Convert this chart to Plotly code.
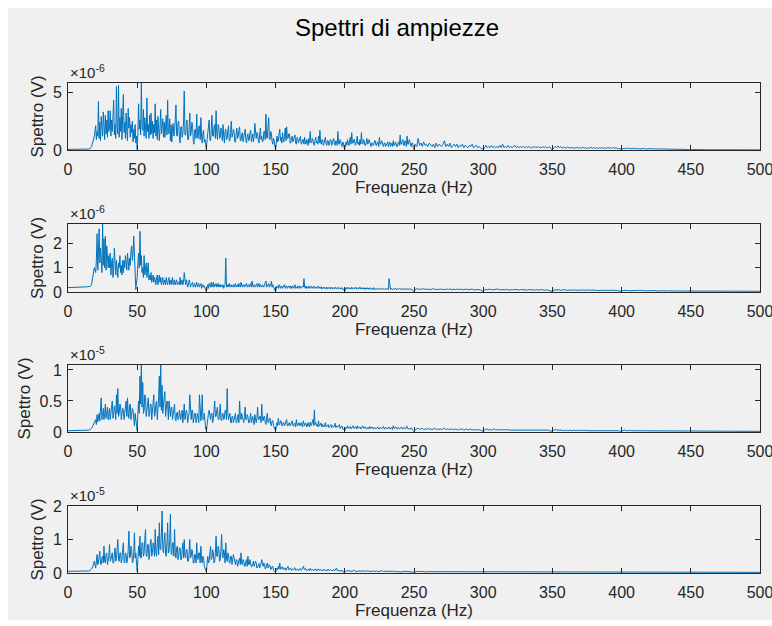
import plotly.graph_objects as go
from plotly.subplots import make_subplots

# Each spectrum is kept in three frequency segments:
#   *_base : 0 .. 19 Hz, 1 Hz step
#   *_fine : 20 .. 249.5 Hz, 0.5 Hz step
#   *_tail : 250 .. 500 Hz, 1 Hz step
# Values are in units of the exponent printed above each axis.

spettro1_base = [0.05, 0.05, 0.04, 0.05, 0.05, 0.04, 0.05, 0.05, 0.05, 0.04,
                 0.05, 0.05, 0.06, 0.05, 0.06, 0.08, 0.12, 0.3, 0.7, 1.2]
spettro1_fine = [
    2.1, 0.9, 1.6, 1.2, 4.2, 1.0, 2.4, 0.8, 2.9, 1.5, 1.2, 3.3, 1.9, 0.9, 3.0, 1.4, 2.6, 1.1, 3.4, 1.6,
    1.9, 3.4, 1.2, 2.6, 1.6, 3.0, 4.3, 1.3, 2.2, 1.0, 5.5, 2.0, 1.4, 5.6, 1.1, 2.8, 1.6, 3.6, 0.9, 3.0,
    4.8, 1.5, 2.4, 1.0, 3.2, 1.6, 0.8, 3.6, 1.9, 2.8, 1.1, 2.2, 1.5, 2.5, 0.7, 1.8, 1.0, 2.2, 0.6, 1.2,
    0.05, 1.5, 4.0, 1.8, 2.6, 1.3, 5.8, 2.0, 1.7, 3.5, 1.2, 2.8, 1.9, 1.0, 4.5, 1.6, 2.2, 1.0, 3.0, 1.3,
    3.2, 1.4, 2.5, 1.0, 2.2, 1.5, 4.0, 1.2, 2.6, 0.9, 2.9, 1.5, 0.8, 2.0, 3.5, 1.4, 1.9, 2.7, 1.1, 2.4,
    1.1, 2.6, 3.0, 1.3, 4.3, 1.5, 1.4, 2.7, 0.8, 2.2, 0.7, 1.9, 2.3, 1.2, 1.6, 2.6, 3.9, 1.3, 1.2, 2.4,
    2.5, 1.0, 0.6, 2.0, 2.0, 1.1, 1.4, 2.5, 5.1, 1.3, 1.3, 2.2, 2.6, 0.9, 0.9, 1.8, 3.2, 1.2, 1.5, 2.4,
    2.2, 0.8, 0.5, 1.7, 1.8, 1.0, 3.1, 1.3, 1.0, 2.0, 2.1, 0.9, 2.8, 1.2, 0.6, 1.5, 1.7, 0.7, 0.9, 0.4,
    0.05, 0.9, 1.4, 2.0, 2.6, 0.9, 0.8, 1.8, 3.0, 1.2, 1.2, 2.0, 2.2, 1.0, 3.4, 1.4, 0.9, 2.2, 2.0, 1.0,
    1.1, 1.9, 1.7, 0.8, 2.2, 1.3, 0.6, 1.6, 1.8, 0.9, 1.0, 1.7, 2.1, 0.8, 0.8, 1.5, 2.5, 1.1, 1.3, 1.8,
    1.6, 0.7, 0.7, 1.4, 1.9, 1.0, 1.2, 1.7, 2.0, 0.8, 0.8, 1.3, 1.5, 0.7, 1.0, 1.6, 1.8, 0.9, 0.6, 1.2,
    1.4, 0.8, 0.9, 1.5, 1.7, 0.7, 1.1, 1.4, 0.7, 1.2, 2.3, 1.0, 1.0, 1.5, 1.5, 0.8, 0.6, 1.3, 1.9, 0.9,
    1.2, 0.7, 0.8, 1.6, 1.6, 0.9, 3.1, 1.1, 1.0, 2.0, 2.8, 1.0, 0.9, 1.6, 1.4, 0.7, 0.5, 1.0, 0.8, 0.3,
    0.05, 0.6, 1.2, 0.7, 0.8, 1.4, 1.8, 0.8, 1.1, 0.6, 1.5, 0.9, 0.7, 1.3, 1.9, 0.8, 2.0, 1.0, 1.0, 1.4,
    1.4, 0.6, 0.6, 1.1, 1.2, 0.7, 0.9, 1.2, 1.3, 0.6, 0.5, 1.1, 1.0, 0.6, 0.8, 1.2, 1.2, 0.5, 0.6, 0.9,
    0.9, 0.5, 1.1, 0.6, 0.5, 0.9, 0.8, 0.4, 1.0, 0.6, 1.6, 0.7, 0.6, 1.0, 0.9, 0.5, 0.4, 0.8, 1.1, 0.6,
    0.7, 0.5, 1.2, 0.6, 1.7, 0.7, 0.5, 0.9, 0.9, 0.4, 0.6, 1.0, 1.1, 0.5, 0.4, 0.8, 0.8, 0.4, 0.5, 0.9,
    0.9, 0.4, 0.6, 0.8, 1.0, 0.5, 0.4, 0.8, 0.7, 0.4, 1.6, 0.6, 0.5, 0.9, 0.8, 0.4, 0.3, 0.7, 0.6, 0.2,
    0.05, 0.5, 0.7, 0.4, 0.9, 0.6, 0.4, 0.8, 1.1, 0.5, 1.5, 0.6, 0.6, 0.9, 0.9, 0.4, 0.5, 0.8, 1.2, 0.5,
    0.7, 0.4, 0.9, 0.5, 1.5, 0.6, 0.5, 0.9, 0.8, 0.4, 0.4, 0.7, 1.0, 0.5, 0.6, 0.9, 0.7, 0.3, 0.3, 0.6,
    0.6, 0.4, 0.5, 0.8, 0.8, 0.4, 0.4, 0.7, 0.6, 0.3, 1.1, 0.5, 0.5, 0.8, 0.7, 0.4, 0.3, 0.6, 0.6, 0.3,
    0.4, 0.6, 0.7, 0.3, 0.5, 0.7, 0.3, 0.5, 0.6, 0.3, 0.8, 0.4, 0.4, 0.7, 0.6, 0.3, 0.3, 0.6, 0.7, 0.4,
    1.3, 0.5, 0.5, 0.8, 0.9, 0.4, 0.4, 0.8, 0.7, 0.3, 1.2, 0.5, 0.5, 0.9, 0.8, 0.4, 0.3, 0.6, 0.6, 0.2,
]
spettro1_tail = [
    0.05, 0.5, 0.3, 1.0, 0.4, 0.6, 0.3, 0.7, 0.4, 0.5,
    0.3, 0.6, 0.4, 0.3, 0.5, 0.2, 0.6, 0.3, 0.5, 0.4,
    0.3, 0.5, 0.8, 0.3, 0.5, 0.3, 0.6, 0.2, 0.4, 0.5,
    0.3, 0.5, 0.2, 0.4, 0.3, 0.5, 0.2, 0.4, 0.3, 0.2,
    0.4, 0.3, 0.5, 0.2, 0.3, 0.4, 0.2, 0.3, 0.2, 0.1,
    0.03, 0.2, 0.4, 0.2, 0.3, 0.2, 0.4, 0.2, 0.3, 0.2,
    0.3, 0.2, 0.4, 0.2, 0.5, 0.2, 0.3, 0.2, 0.4, 0.2,
    0.3, 0.2, 0.3, 0.4, 0.2, 0.3, 0.2, 0.3, 0.2, 0.3,
    0.2, 0.3, 0.2, 0.3, 0.2, 0.2, 0.3, 0.2, 0.3, 0.2,
    0.3, 0.2, 0.2, 0.3, 0.2, 0.3, 0.2, 0.2, 0.3, 0.1,
    0.03, 0.2, 0.3, 0.2, 0.35, 0.2, 0.3, 0.15, 0.25, 0.2,
    0.15, 0.25, 0.2, 0.15, 0.25, 0.15, 0.2, 0.15, 0.25, 0.15,
    0.2, 0.15, 0.25, 0.15, 0.2, 0.12, 0.2, 0.15, 0.25, 0.15,
    0.2, 0.15, 0.2, 0.12, 0.2, 0.15, 0.22, 0.12, 0.2, 0.15,
    0.22, 0.15, 0.2, 0.12, 0.25, 0.15, 0.2, 0.12, 0.15, 0.1,
    0.03, 0.12, 0.15, 0.1, 0.18, 0.12, 0.15, 0.1, 0.14, 0.1,
    0.15, 0.1, 0.14, 0.08, 0.12, 0.1, 0.14, 0.08, 0.12, 0.1,
    0.12, 0.08, 0.1, 0.07, 0.12, 0.08, 0.1, 0.07, 0.1, 0.08,
    0.09, 0.06, 0.08, 0.07, 0.09, 0.06, 0.08, 0.05, 0.07, 0.06,
    0.07, 0.05, 0.06, 0.05, 0.06, 0.04, 0.05, 0.04, 0.05, 0.03,
    0.02, 0.04, 0.03, 0.04, 0.03, 0.04, 0.03, 0.03, 0.03, 0.02,
    0.03, 0.02, 0.02, 0.02, 0.02, 0.02, 0.02, 0.02, 0.02, 0.02,
    0.02, 0.02, 0.02, 0.02, 0.02, 0.02, 0.02, 0.02, 0.02, 0.02,
    0.02, 0.02, 0.01, 0.02, 0.02, 0.01, 0.02, 0.02, 0.01, 0.02,
    0.01, 0.02, 0.01, 0.01, 0.02, 0.01, 0.01, 0.01, 0.01, 0.01,
    0.01,
]

spettro2_base = [0.18, 0.18, 0.18, 0.19, 0.19, 0.19, 0.19, 0.20, 0.20, 0.20,
                 0.20, 0.21, 0.21, 0.21, 0.22, 0.22, 0.23, 0.3, 0.6, 1.0]
spettro2_fine = [
    0.8, 1.3, 2.4, 0.9, 1.6, 2.6, 1.2, 1.8, 1.4, 0.8, 2.8, 1.1, 2.2, 1.0, 2.3, 0.9, 1.9, 1.3, 1.0, 1.5,
    1.0, 1.6, 0.7, 1.2, 1.4, 0.6, 0.9, 1.8, 1.0, 0.7, 1.3, 0.9, 0.6, 1.2, 1.0, 1.5, 0.8, 1.1, 0.7, 1.3,
    0.8, 1.3, 1.0, 1.5, 1.1, 0.9, 1.6, 1.2, 0.9, 1.4, 1.1, 1.7, 1.9, 1.3, 1.6, 2.3, 1.2, 0.6, 0.1, 0.4,
    0.6, 1.2, 1.6, 1.0, 2.5, 1.1, 1.5, 0.8, 1.0, 0.6, 1.5, 0.7, 0.9, 1.2, 0.6, 0.8, 1.2, 0.5, 0.7, 0.5,
    0.8, 0.4, 0.5, 0.7, 0.4, 0.6, 0.5, 0.3, 0.6, 0.7, 0.3, 0.5, 0.7, 0.4, 0.6, 0.3, 0.5, 0.6, 0.3, 0.4,
    0.5, 0.3, 0.6, 0.4, 0.3, 0.5, 0.6, 0.3, 0.4, 0.5, 0.3, 0.6, 0.4, 0.3, 0.5, 0.3, 0.4, 0.5, 0.3, 0.4,
    0.4, 0.3, 0.6, 0.3, 0.4, 0.5, 0.3, 0.4, 0.8, 0.3, 0.3, 0.5, 0.4, 0.2, 0.3, 0.5, 0.4, 0.2, 0.3, 0.4,
    0.4, 0.2, 0.3, 0.35, 0.2, 0.3, 0.4, 0.2, 0.25, 0.35, 0.2, 0.3, 0.35, 0.15, 0.25, 0.3, 0.2, 0.25, 0.15, 0.1,
    0.02, 0.2, 0.3, 0.15, 0.35, 0.25, 0.2, 0.4, 0.2, 0.3, 0.4, 0.2, 0.3, 0.25, 0.35, 0.2, 0.25, 0.35, 0.2, 0.3,
    0.2, 0.3, 0.25, 0.2, 0.3, 0.15, 0.25, 0.3, 1.4, 0.2, 0.3, 0.2, 0.25, 0.35, 0.2, 0.25, 0.3, 0.2, 0.25, 0.3,
    0.2, 0.3, 0.35, 0.2, 0.25, 0.3, 0.2, 0.35, 0.25, 0.2, 0.4, 0.25, 0.2, 0.3, 0.25, 0.2, 0.3, 0.25, 0.35, 0.2,
    0.25, 0.3, 0.2, 0.25, 0.35, 0.2, 0.45, 0.25, 0.2, 0.3, 0.25, 0.2, 0.3, 0.35, 0.2, 0.25, 0.35, 0.2, 0.3, 0.25,
    0.2, 0.3, 0.25, 0.2, 0.3, 0.35, 0.45, 0.2, 0.25, 0.3, 0.35, 0.2, 0.3, 0.25, 0.45, 0.2, 0.3, 0.2, 0.15, 0.05,
    0.02, 0.15, 0.25, 0.2, 0.15, 0.3, 0.2, 0.15, 0.25, 0.2, 0.15, 0.25, 0.2, 0.3, 0.15, 0.2, 0.25, 0.15, 0.2, 0.25,
    0.2, 0.15, 0.25, 0.15, 0.2, 0.25, 0.15, 0.2, 0.3, 0.15, 0.2, 0.15, 0.25, 0.2, 0.15, 0.25, 0.2, 0.15, 0.2, 0.25,
    0.2, 0.55, 0.2, 0.15, 0.25, 0.15, 0.2, 0.15, 0.25, 0.2, 0.15, 0.2, 0.25, 0.15, 0.2, 0.15, 0.25, 0.2, 0.15, 0.2,
    0.15, 0.2, 0.25, 0.15, 0.2, 0.15, 0.22, 0.12, 0.18, 0.2, 0.15, 0.2, 0.12, 0.18, 0.2, 0.12, 0.18, 0.15, 0.2, 0.12,
    0.15, 0.2, 0.12, 0.18, 0.15, 0.12, 0.2, 0.15, 0.12, 0.18, 0.2, 0.12, 0.15, 0.18, 0.12, 0.15, 0.18, 0.1, 0.12, 0.08,
    0.02, 0.12, 0.18, 0.12, 0.2, 0.15, 0.12, 0.18, 0.15, 0.12, 0.2, 0.12, 0.15, 0.18, 0.12, 0.15, 0.2, 0.12, 0.15, 0.18,
    0.12, 0.15, 0.2, 0.12, 0.15, 0.18, 0.12, 0.15, 0.18, 0.1, 0.15, 0.12, 0.18, 0.12, 0.15, 0.1, 0.18, 0.12, 0.15, 0.1,
    0.12, 0.18, 0.1, 0.15, 0.12, 0.1, 0.15, 0.12, 0.1, 0.14, 0.15, 0.1, 0.12, 0.15, 0.1, 0.12, 0.14, 0.1, 0.12, 0.15,
    0.1, 0.14, 0.12, 0.1, 0.55, 0.12, 0.1, 0.15, 0.12, 0.1, 0.14, 0.1, 0.12, 0.15, 0.1, 0.12, 0.14, 0.1, 0.12, 0.15,
    0.12, 0.1, 0.14, 0.1, 0.15, 0.12, 0.1, 0.14, 0.12, 0.1, 0.14, 0.1, 0.12, 0.1, 0.14, 0.1, 0.12, 0.1, 0.08, 0.05,
]
spettro2_tail = [
    0.02, 0.1, 0.14, 0.12, 0.1, 0.13, 0.11, 0.14, 0.1, 0.12,
    0.11, 0.13, 0.1, 0.12, 0.14, 0.1, 0.12, 0.11, 0.1, 0.13,
    0.1, 0.12, 0.11, 0.1, 0.12, 0.1, 0.13, 0.1, 0.12, 0.11,
    0.1, 0.12, 0.1, 0.11, 0.12, 0.09, 0.11, 0.1, 0.12, 0.09,
    0.11, 0.1, 0.12, 0.09, 0.1, 0.11, 0.09, 0.1, 0.08, 0.06,
    0.02, 0.09, 0.11, 0.09, 0.1, 0.12, 0.09, 0.1, 0.11, 0.09,
    0.1, 0.12, 0.09, 0.1, 0.08, 0.1, 0.09, 0.11, 0.08, 0.1,
    0.09, 0.1, 0.08, 0.11, 0.09, 0.1, 0.08, 0.1, 0.09, 0.08,
    0.1, 0.09, 0.08, 0.1, 0.09, 0.08, 0.1, 0.08, 0.09, 0.08,
    0.09, 0.08, 0.1, 0.08, 0.09, 0.07, 0.09, 0.08, 0.07, 0.05,
    0.02, 0.08, 0.09, 0.1, 0.08, 0.09, 0.07, 0.09, 0.08, 0.1,
    0.07, 0.08, 0.09, 0.07, 0.08, 0.07, 0.09, 0.07, 0.08, 0.07,
    0.08, 0.07, 0.09, 0.07, 0.08, 0.06, 0.08, 0.07, 0.08, 0.06,
    0.07, 0.08, 0.06, 0.07, 0.08, 0.06, 0.07, 0.06, 0.08, 0.06,
    0.07, 0.06, 0.07, 0.06, 0.08, 0.06, 0.07, 0.06, 0.05, 0.04,
    0.02, 0.06, 0.07, 0.06, 0.07, 0.05, 0.06, 0.07, 0.05, 0.06,
    0.06, 0.05, 0.06, 0.07, 0.05, 0.06, 0.05, 0.06, 0.05, 0.05,
    0.05, 0.06, 0.05, 0.05, 0.06, 0.04, 0.05, 0.05, 0.04, 0.05,
    0.05, 0.04, 0.05, 0.04, 0.05, 0.04, 0.04, 0.05, 0.04, 0.04,
    0.04, 0.05, 0.04, 0.04, 0.04, 0.03, 0.04, 0.04, 0.03, 0.03,
    0.03, 0.03, 0.04, 0.03, 0.03, 0.03, 0.03, 0.03, 0.03, 0.03,
    0.03, 0.03, 0.03, 0.03, 0.03, 0.03, 0.03, 0.03, 0.03, 0.03,
    0.03, 0.03, 0.03, 0.03, 0.03, 0.03, 0.03, 0.03, 0.03, 0.03,
    0.03, 0.03, 0.03, 0.03, 0.03, 0.03, 0.03, 0.03, 0.03, 0.03,
    0.03, 0.03, 0.03, 0.03, 0.03, 0.03, 0.03, 0.03, 0.03, 0.03,
    0.03,
]

spettro3_base = [0.02, 0.02, 0.02, 0.02, 0.02, 0.02, 0.02, 0.02, 0.02, 0.02,
                 0.02, 0.02, 0.02, 0.02, 0.03, 0.03, 0.04, 0.06, 0.1, 0.14]
spettro3_fine = [
    0.2, 0.12, 0.28, 0.16, 0.22, 0.3, 0.18, 0.35, 0.55, 0.2, 0.25, 0.38, 0.2, 0.3, 0.45, 0.22, 0.28, 0.4, 0.2, 0.32,
    0.38, 0.2, 0.3, 0.45, 0.5, 0.22, 0.28, 0.42, 0.35, 0.2, 0.6, 0.3, 0.7, 0.25, 0.3, 0.45, 0.42, 0.2, 0.3, 0.38,
    0.35, 0.2, 0.3, 0.4, 0.5, 0.25, 0.55, 0.3, 0.22, 0.42, 0.45, 0.2, 0.3, 0.38, 0.35, 0.15, 0.1, 0.3, 0.2, 0.08,
    0.02, 0.3, 0.5, 0.3, 0.9, 0.45, 1.08, 0.4, 0.8, 0.3, 0.35, 0.6, 0.55, 0.25, 0.4, 0.5, 0.55, 0.25, 0.3, 0.45,
    0.45, 0.2, 0.3, 0.5, 0.6, 0.25, 0.3, 0.45, 0.5, 0.2, 0.35, 0.55, 0.9, 0.4, 1.08, 0.35, 0.75, 0.3, 0.45, 0.6,
    0.65, 0.25, 0.35, 0.5, 0.45, 0.2, 0.5, 0.3, 0.25, 0.4, 0.4, 0.2, 0.3, 0.35, 0.45, 0.2, 0.18, 0.3, 0.32, 0.2,
    0.22, 0.35, 0.3, 0.2, 0.3, 0.35, 0.15, 0.25, 0.45, 0.2, 0.25, 0.35, 0.3, 0.15, 0.25, 0.3, 0.6, 0.25, 0.2, 0.35,
    0.35, 0.15, 0.25, 0.3, 0.3, 0.15, 0.2, 0.3, 0.25, 0.15, 0.6, 0.25, 0.18, 0.3, 0.6, 0.2, 0.2, 0.3, 0.1, 0.05,
    0.02, 0.15, 0.25, 0.3, 0.35, 0.2, 0.2, 0.3, 0.3, 0.15, 0.2, 0.35, 0.5, 0.25, 0.25, 0.35, 0.4, 0.2, 0.2, 0.3,
    0.45, 0.2, 0.18, 0.3, 0.3, 0.2, 0.22, 0.35, 0.35, 0.2, 0.7, 0.3, 0.2, 0.25, 0.3, 0.15, 0.15, 0.25, 0.25, 0.15,
    0.2, 0.3, 0.3, 0.15, 0.15, 0.25, 0.28, 0.15, 0.5, 0.25, 0.2, 0.3, 0.25, 0.15, 0.15, 0.25, 0.4, 0.2, 0.2, 0.28,
    0.25, 0.15, 0.15, 0.22, 0.3, 0.15, 0.2, 0.25, 0.18, 0.12, 0.28, 0.2, 0.15, 0.22, 0.4, 0.2, 0.2, 0.25, 0.25, 0.15,
    0.45, 0.2, 0.18, 0.25, 0.25, 0.15, 0.12, 0.22, 0.3, 0.15, 0.15, 0.22, 0.22, 0.12, 0.1, 0.18, 0.18, 0.1, 0.08, 0.05,
    0.02, 0.1, 0.15, 0.1, 0.22, 0.12, 0.12, 0.18, 0.18, 0.1, 0.1, 0.15, 0.15, 0.1, 0.12, 0.18, 0.2, 0.1, 0.1, 0.14,
    0.15, 0.1, 0.12, 0.16, 0.18, 0.1, 0.1, 0.14, 0.14, 0.08, 0.2, 0.12, 0.1, 0.14, 0.15, 0.1, 0.12, 0.15, 0.1, 0.08,
    0.18, 0.1, 0.1, 0.14, 0.14, 0.08, 0.12, 0.15, 0.1, 0.08, 0.16, 0.1, 0.12, 0.15, 0.2, 0.1, 0.35, 0.12, 0.15, 0.1,
    0.12, 0.08, 0.18, 0.1, 0.1, 0.14, 0.14, 0.08, 0.12, 0.1, 0.08, 0.12, 0.15, 0.08, 0.1, 0.12, 0.12, 0.07, 0.08, 0.1,
    0.12, 0.07, 0.1, 0.09, 0.08, 0.1, 0.14, 0.07, 0.1, 0.08, 0.08, 0.1, 0.12, 0.06, 0.06, 0.09, 0.1, 0.05, 0.05, 0.03,
    0.02, 0.05, 0.08, 0.06, 0.1, 0.06, 0.06, 0.08, 0.09, 0.05, 0.07, 0.09, 0.1, 0.06, 0.06, 0.08, 0.08, 0.05, 0.1, 0.06,
    0.06, 0.08, 0.08, 0.05, 0.07, 0.09, 0.1, 0.06, 0.06, 0.08, 0.08, 0.05, 0.05, 0.07, 0.07, 0.05, 0.09, 0.06, 0.06, 0.08,
    0.08, 0.05, 0.05, 0.07, 0.07, 0.05, 0.06, 0.08, 0.08, 0.05, 0.05, 0.07, 0.07, 0.05, 0.06, 0.08, 0.09, 0.05, 0.05, 0.07,
    0.07, 0.05, 0.06, 0.08, 0.08, 0.05, 0.05, 0.07, 0.07, 0.04, 0.1, 0.06, 0.06, 0.08, 0.08, 0.05, 0.05, 0.07, 0.07, 0.05,
    0.06, 0.08, 0.08, 0.05, 0.05, 0.07, 0.07, 0.05, 0.06, 0.09, 0.09, 0.05, 0.05, 0.06, 0.06, 0.05, 0.07, 0.04, 0.03, 0.02,
]
spettro3_tail = [
    0.01, 0.04, 0.05, 0.06, 0.04, 0.05, 0.06, 0.04, 0.05, 0.04,
    0.06, 0.04, 0.05, 0.04, 0.05, 0.06, 0.04, 0.05, 0.04, 0.05,
    0.04, 0.05, 0.06, 0.04, 0.05, 0.04, 0.05, 0.04, 0.05, 0.03,
    0.05, 0.04, 0.03, 0.05, 0.04, 0.05, 0.03, 0.04, 0.05, 0.03,
    0.04, 0.05, 0.03, 0.04, 0.03, 0.04, 0.03, 0.04, 0.03, 0.02,
    0.01, 0.03, 0.04, 0.05, 0.03, 0.04, 0.03, 0.04, 0.05, 0.03,
    0.04, 0.03, 0.04, 0.03, 0.04, 0.03, 0.04, 0.03, 0.04, 0.03,
    0.03, 0.04, 0.03, 0.04, 0.03, 0.04, 0.03, 0.03, 0.04, 0.03,
    0.03, 0.04, 0.03, 0.03, 0.04, 0.03, 0.03, 0.04, 0.03, 0.03,
    0.03, 0.04, 0.03, 0.03, 0.03, 0.04, 0.03, 0.03, 0.02, 0.02,
    0.01, 0.03, 0.04, 0.03, 0.03, 0.04, 0.03, 0.03, 0.02, 0.03,
    0.03, 0.02, 0.03, 0.03, 0.02, 0.03, 0.03, 0.02, 0.03, 0.02,
    0.03, 0.02, 0.03, 0.02, 0.03, 0.02, 0.02, 0.03, 0.02, 0.03,
    0.02, 0.03, 0.02, 0.02, 0.03, 0.02, 0.02, 0.03, 0.02, 0.02,
    0.03, 0.02, 0.02, 0.03, 0.02, 0.02, 0.02, 0.02, 0.02, 0.01,
    0.01, 0.02, 0.03, 0.02, 0.02, 0.02, 0.03, 0.02, 0.02, 0.02,
    0.02, 0.02, 0.02, 0.01, 0.02, 0.02, 0.01, 0.02, 0.02, 0.01,
    0.02, 0.01, 0.02, 0.01, 0.02, 0.01, 0.02, 0.01, 0.01, 0.02,
    0.01, 0.02, 0.01, 0.01, 0.02, 0.01, 0.01, 0.01, 0.02, 0.01,
    0.01, 0.01, 0.01, 0.01, 0.01, 0.01, 0.01, 0.01, 0.01, 0.01,
    0.01, 0.01, 0.01, 0.01, 0.01, 0.01, 0.01, 0.01, 0.01, 0.01,
    0.01, 0.01, 0.01, 0.01, 0.01, 0.01, 0.01, 0.01, 0.01, 0.01,
    0.01, 0.01, 0.01, 0.01, 0.01, 0.01, 0.01, 0.01, 0.01, 0.01,
    0.01, 0.01, 0.01, 0.01, 0.01, 0.01, 0.01, 0.01, 0.01, 0.01,
    0.01, 0.01, 0.01, 0.01, 0.01, 0.01, 0.01, 0.01, 0.01, 0.01,
    0.01,
]

spettro4_base = [0.05, 0.05, 0.05, 0.05, 0.05, 0.05, 0.05, 0.05, 0.05, 0.05,
                 0.05, 0.05, 0.05, 0.05, 0.06, 0.06, 0.08, 0.12, 0.2, 0.35]
spettro4_fine = [
    0.15, 0.3, 0.55, 0.25, 0.3, 0.5, 0.65, 0.3, 0.25, 0.45, 0.5, 0.3, 0.8, 0.35, 0.3, 0.55, 0.6, 0.25, 0.35, 0.5,
    0.85, 0.35, 0.4, 0.6, 0.6, 0.3, 0.3, 0.55, 0.75, 0.35, 0.45, 0.7, 1.0, 0.4, 0.35, 0.6, 0.6, 0.3, 0.4, 0.7,
    0.9, 0.35, 0.3, 0.6, 0.55, 0.3, 0.4, 0.7, 1.25, 0.45, 0.5, 0.8, 0.7, 0.3, 0.35, 0.6, 1.2, 0.45, 0.6, 0.3,
    0.05, 0.4, 0.8, 0.5, 1.1, 0.45, 0.45, 0.9, 0.9, 0.5, 0.6, 1.0, 1.3, 0.5, 0.5, 0.85, 0.85, 0.4, 0.55, 0.9,
    1.0, 0.5, 0.6, 0.9, 0.8, 0.5, 1.3, 0.6, 0.5, 0.9, 1.1, 0.55, 1.5, 0.7, 0.7, 1.2, 1.85, 0.7, 0.6, 1.0,
    1.2, 0.55, 0.5, 0.9, 1.5, 0.6, 0.65, 1.0, 1.75, 0.6, 0.55, 0.9, 0.9, 0.5, 1.3, 0.6, 0.45, 0.75, 0.8, 0.4,
    0.5, 0.75, 0.75, 0.4, 0.4, 0.7, 0.9, 0.45, 1.0, 0.5, 0.45, 0.7, 0.7, 0.35, 0.35, 0.6, 1.0, 0.45, 0.5, 0.7,
    0.65, 0.3, 0.3, 0.55, 0.55, 0.3, 0.9, 0.45, 0.4, 0.6, 0.6, 0.3, 0.8, 0.4, 0.3, 0.5, 0.45, 0.2, 0.15, 0.05,
    0.03, 0.3, 0.5, 0.3, 0.35, 0.6, 0.8, 0.4, 0.45, 0.7, 0.6, 0.3, 0.35, 0.6, 1.1, 0.5, 0.5, 0.8, 0.7, 0.35,
    0.4, 0.7, 1.15, 0.5, 0.45, 0.7, 0.6, 0.3, 0.9, 0.45, 0.35, 0.6, 0.55, 0.3, 0.3, 0.5, 0.5, 0.25, 0.35, 0.55,
    0.45, 0.25, 0.25, 0.4, 0.4, 0.2, 0.3, 0.45, 0.45, 0.25, 0.6, 0.3, 0.25, 0.4, 0.35, 0.2, 0.2, 0.35, 0.4, 0.2,
    0.5, 0.25, 0.25, 0.4, 0.3, 0.18, 0.2, 0.35, 0.35, 0.2, 0.25, 0.35, 0.3, 0.15, 0.18, 0.28, 0.28, 0.15, 0.2, 0.3,
    0.4, 0.2, 0.2, 0.3, 0.25, 0.12, 0.15, 0.25, 0.3, 0.15, 0.18, 0.25, 0.22, 0.1, 0.12, 0.2, 0.2, 0.08, 0.06, 0.04,
    0.02, 0.1, 0.15, 0.1, 0.2, 0.12, 0.3, 0.12, 0.12, 0.18, 0.18, 0.1, 0.1, 0.15, 0.15, 0.08, 0.12, 0.16, 0.2, 0.1,
    0.1, 0.14, 0.14, 0.08, 0.12, 0.1, 0.1, 0.14, 0.16, 0.08, 0.09, 0.12, 0.12, 0.07, 0.1, 0.12, 0.14, 0.08, 0.09, 0.12,
    0.2, 0.1, 0.1, 0.13, 0.12, 0.07, 0.08, 0.1, 0.11, 0.07, 0.14, 0.09, 0.08, 0.11, 0.1, 0.06, 0.1, 0.12, 0.12, 0.07,
    0.1, 0.07, 0.12, 0.08, 0.08, 0.1, 0.1, 0.06, 0.07, 0.1, 0.11, 0.07, 0.08, 0.1, 0.09, 0.06, 0.12, 0.08, 0.07, 0.1,
    0.09, 0.06, 0.07, 0.09, 0.1, 0.06, 0.08, 0.1, 0.15, 0.07, 0.07, 0.09, 0.08, 0.05, 0.06, 0.08, 0.08, 0.04, 0.04, 0.03,
    0.02, 0.05, 0.07, 0.05, 0.06, 0.07, 0.08, 0.05, 0.05, 0.06, 0.07, 0.05, 0.06, 0.08, 0.08, 0.05, 0.05, 0.06, 0.06, 0.04,
    0.07, 0.05, 0.05, 0.06, 0.06, 0.04, 0.08, 0.05, 0.05, 0.06, 0.06, 0.04, 0.05, 0.07, 0.07, 0.04, 0.05, 0.06, 0.06, 0.04,
    0.05, 0.06, 0.07, 0.04, 0.05, 0.06, 0.06, 0.04, 0.04, 0.05, 0.06, 0.04, 0.05, 0.06, 0.07, 0.04, 0.04, 0.05, 0.05, 0.04,
    0.06, 0.04, 0.04, 0.05, 0.05, 0.04, 0.06, 0.04, 0.04, 0.05, 0.05, 0.03, 0.04, 0.05, 0.06, 0.04, 0.04, 0.05, 0.05, 0.03,
    0.04, 0.05, 0.05, 0.03, 0.06, 0.04, 0.04, 0.05, 0.05, 0.03, 0.04, 0.05, 0.05, 0.03, 0.04, 0.05, 0.05, 0.03, 0.03, 0.02,
]
spettro4_tail = [
    0.02, 0.04, 0.05, 0.04, 0.04, 0.05, 0.04, 0.04, 0.03, 0.04,
    0.04, 0.03, 0.04, 0.04, 0.03, 0.04, 0.03, 0.04, 0.03, 0.03,
    0.04, 0.03, 0.03, 0.04, 0.03, 0.04, 0.03, 0.03, 0.04, 0.03,
    0.03, 0.04, 0.03, 0.03, 0.04, 0.03, 0.03, 0.04, 0.03, 0.03,
    0.04, 0.03, 0.03, 0.03, 0.04, 0.03, 0.03, 0.03, 0.03, 0.02,
    0.02, 0.03, 0.04, 0.03, 0.03, 0.04, 0.03, 0.03, 0.03, 0.03,
    0.03, 0.04, 0.03, 0.03, 0.03, 0.03, 0.04, 0.03, 0.03, 0.03,
    0.03, 0.03, 0.03, 0.04, 0.03, 0.03, 0.03, 0.03, 0.03, 0.03,
    0.03, 0.03, 0.04, 0.03, 0.03, 0.03, 0.03, 0.03, 0.03, 0.03,
    0.03, 0.03, 0.03, 0.03, 0.03, 0.03, 0.03, 0.03, 0.03, 0.02,
    0.02, 0.03, 0.03, 0.03, 0.03, 0.03, 0.03, 0.03, 0.03, 0.03,
    0.03, 0.03, 0.03, 0.03, 0.03, 0.03, 0.03, 0.03, 0.03, 0.03,
    0.03, 0.03, 0.03, 0.03, 0.03, 0.03, 0.03, 0.03, 0.03, 0.03,
    0.03, 0.03, 0.03, 0.03, 0.03, 0.03, 0.03, 0.03, 0.03, 0.03,
    0.03, 0.03, 0.03, 0.03, 0.03, 0.03, 0.03, 0.03, 0.03, 0.02,
    0.02, 0.03, 0.03, 0.03, 0.03, 0.03, 0.03, 0.03, 0.03, 0.03,
    0.03, 0.02, 0.03, 0.03, 0.02, 0.03, 0.03, 0.02, 0.03, 0.03,
    0.02, 0.03, 0.02, 0.03, 0.02, 0.02, 0.03, 0.02, 0.02, 0.03,
    0.02, 0.02, 0.03, 0.02, 0.02, 0.02, 0.02, 0.03, 0.02, 0.02,
    0.02, 0.02, 0.02, 0.02, 0.02, 0.02, 0.02, 0.02, 0.02, 0.02,
    0.02, 0.02, 0.02, 0.02, 0.02, 0.02, 0.02, 0.02, 0.02, 0.02,
    0.02, 0.02, 0.02, 0.02, 0.02, 0.02, 0.02, 0.02, 0.02, 0.02,
    0.02, 0.02, 0.02, 0.02, 0.02, 0.02, 0.02, 0.02, 0.02, 0.02,
    0.02, 0.02, 0.02, 0.02, 0.02, 0.02, 0.02, 0.02, 0.02, 0.02,
    0.02, 0.02, 0.02, 0.02, 0.02, 0.02, 0.02, 0.02, 0.02, 0.02,
    0.02,
]

segments = [
    (spettro1_base, spettro1_fine, spettro1_tail),
    (spettro2_base, spettro2_fine, spettro2_tail),
    (spettro3_base, spettro3_fine, spettro3_tail),
    (spettro4_base, spettro4_fine, spettro4_tail),
]
exponents = [-6, -6, -5, -5]
y_top = [5.8, 2.8, 1.08, 2.0]
y_tickvals = [[0, 5], [0, 1, 2], [0, 0.5, 1], [0, 1, 2]]
y_ticktext = [["0", "5"], ["0", "1", "2"], ["0", "0.5", "1"], ["0", "1", "2"]]
x_tickvals = [0, 50, 100, 150, 200, 250, 300, 350, 400, 450, 500]


def spectrum_xy(base, fine, tail):
    """Join the three segments into one frequency / amplitude pair."""
    x = [float(i) for i in range(len(base))]
    x += [20.0 + 0.5 * i for i in range(len(fine))]
    x += [250.0 + i for i in range(len(tail))]
    return x, list(base) + list(fine) + list(tail)


LINE = "#0072BD"
AX = "#262626"
FONT = "Liberation Sans, Arial, Helvetica, sans-serif"

# Axes box positions in the figure (paper fractions)
domains = [[0.8633, 1.0], [0.5735, 0.7122], [0.2878, 0.4245], [0.0, 0.1367]]

fig = make_subplots(rows=4, cols=1)

for i, (seg, e) in enumerate(zip(segments, exponents)):
    scale = 10.0 ** e
    x, y = spectrum_xy(*seg)
    fig.add_trace(
        go.Scatter(x=x, y=[v * scale for v in y], mode="lines",
                   line=dict(color=LINE, width=1), hoverinfo="skip", showlegend=False),
        row=i + 1, col=1,
    )
    fig.update_xaxes(
        row=i + 1, col=1, range=[0, 500], tickvals=x_tickvals, automargin=False,
        showline=True, linecolor=AX, linewidth=1, mirror="ticks",
        ticks="inside", ticklen=5, tickcolor=AX, showgrid=False, zeroline=False,
        tickfont=dict(family=FONT, size=16, color=AX), ticklabelstandoff=5,
        ticklabeloverflow="allow",
        title=dict(text="Frequenza (Hz)", font=dict(family=FONT, size=17, color=AX), standoff=2),
    )
    fig.update_yaxes(
        row=i + 1, col=1, range=[0, y_top[i] * scale], domain=domains[i], automargin=False,
        tickvals=[t * scale for t in y_tickvals[i]], ticktext=y_ticktext[i],
        showline=True, linecolor=AX, linewidth=1, mirror="ticks",
        ticks="inside", ticklen=5, tickcolor=AX, showgrid=False, zeroline=False,
        tickfont=dict(family=FONT, size=16, color=AX), ticklabelstandoff=2,
        title=dict(text="Spettro (V)", font=dict(family=FONT, size=17, color=AX), standoff=4),
    )
    fig.add_annotation(
        xref="paper", yref="paper", x=0.0, y=domains[i][1], xanchor="left", yanchor="bottom",
        text=f"×10<sup>{e}</sup>", showarrow=False,
        font=dict(family=FONT, size=15, color=AX),
    )

fig.add_annotation(
    xref="paper", yref="paper", x=0.4754, y=1.114, xanchor="center", yanchor="middle",
    text="Spettri di ampiezze", showarrow=False,
    font=dict(family=FONT, size=24, color="#000000"),
)

# Grey figure panel behind the axes
fig.add_shape(type="rect", xref="paper", yref="paper", x0=-0.0867, x1=1.02, y0=-0.0959, y1=1.153,
              fillcolor="#f0f0f0", line=dict(width=0), layer="below")

fig.update_layout(
    width=772, height=626,
    margin=dict(l=68, r=12, t=83, b=53),
    paper_bgcolor="#ffffff", plot_bgcolor="#ffffff",
    font=dict(family=FONT, color=AX),
)

fig.write_html("out.html")
